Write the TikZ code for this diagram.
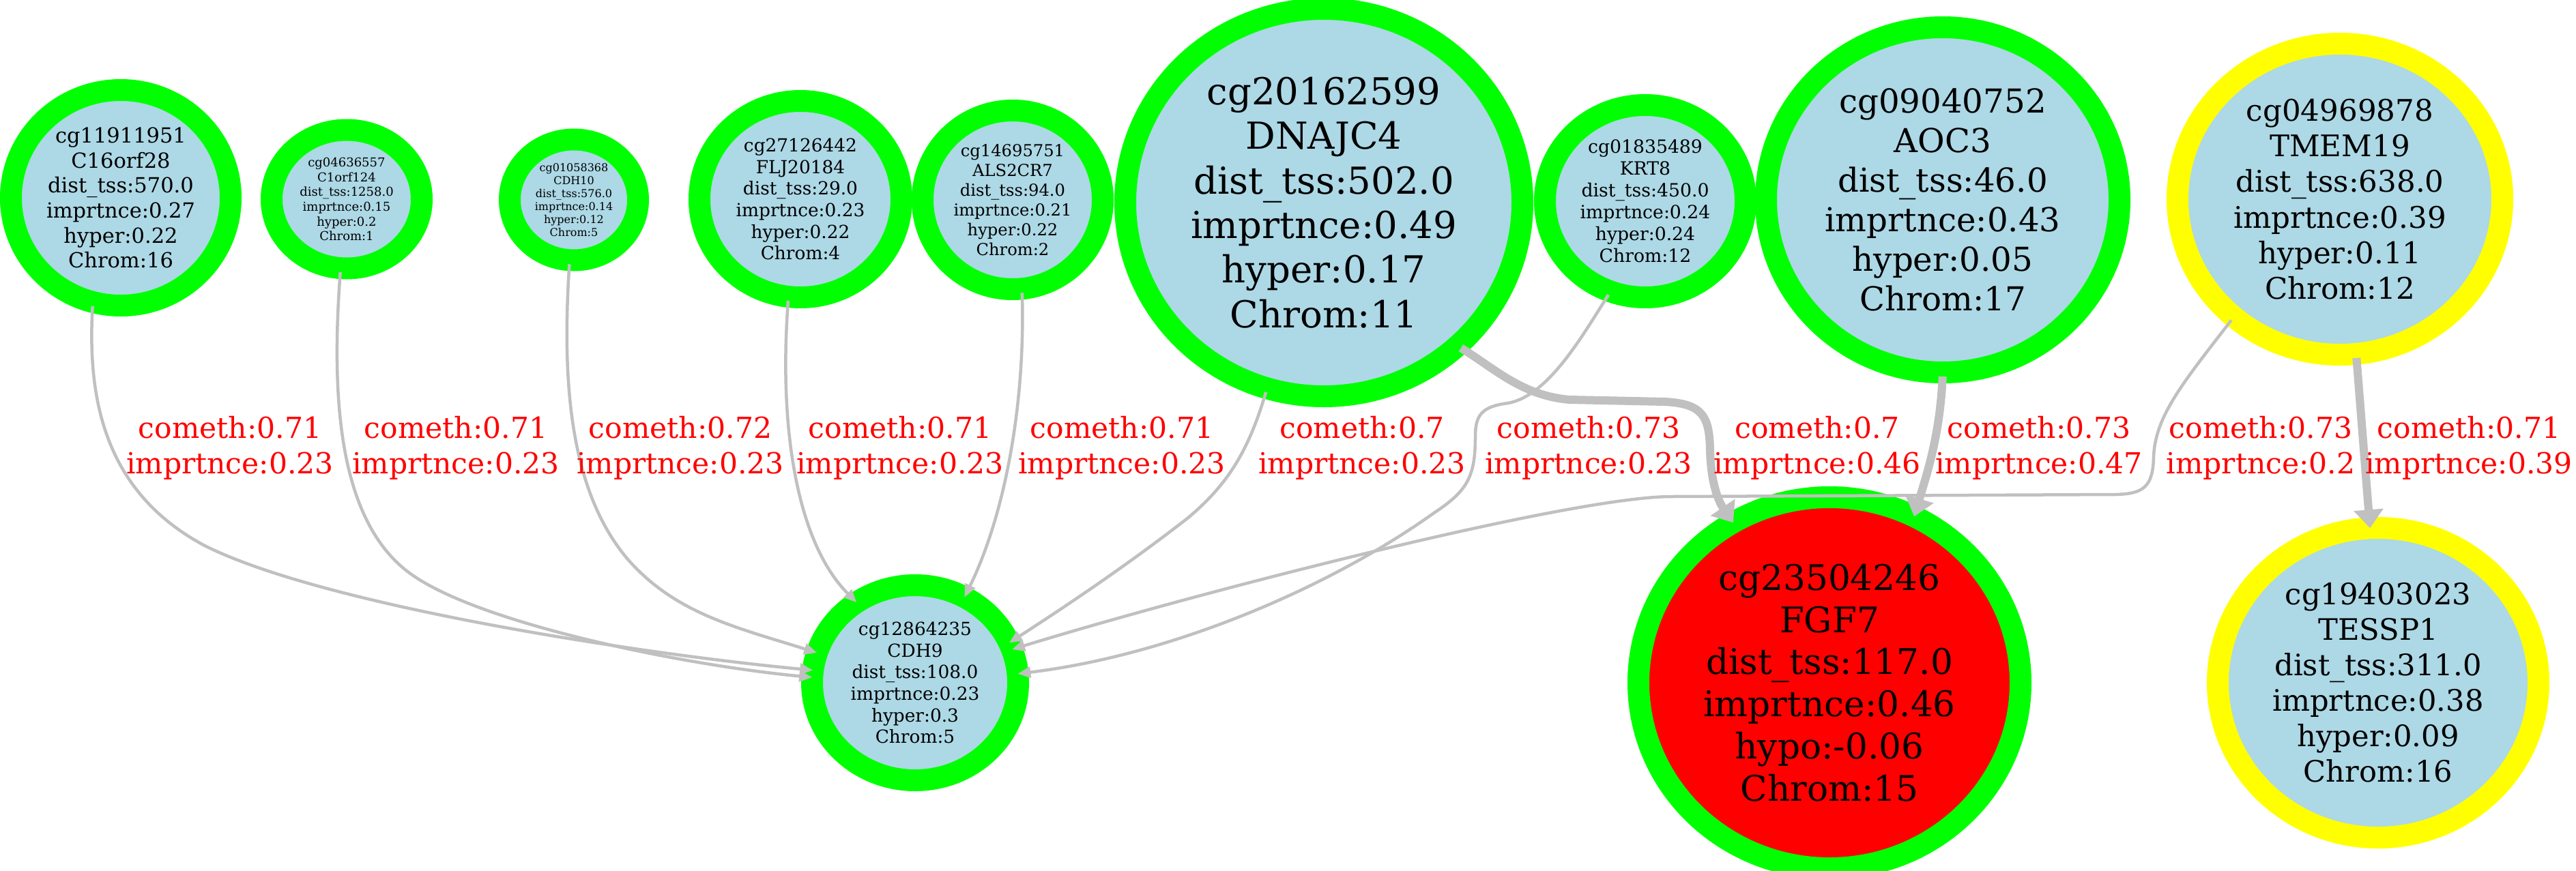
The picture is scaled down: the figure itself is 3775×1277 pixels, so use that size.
\documentclass[tikz,border=0pt]{standalone}
\usepackage{fontspec}
\setmainfont{DejaVu Serif}
\usetikzlibrary{shapes.geometric,arrows.meta}
\definecolor{ringgreen}{RGB}{0,255,0}
\definecolor{ringyellow}{RGB}{255,255,0}
\definecolor{nodeblue}{RGB}{173,216,230}
\definecolor{nodered}{RGB}{255,0,0}
\definecolor{edgegray}{RGB}{192,192,192}
\definecolor{labred}{RGB}{255,0,0}
\begin{document}
\begin{tikzpicture}[x=1pt,y=-1pt,
  gring/.style={ellipse, draw=ringgreen, fill=nodeblue, line width=32pt, inner sep=0pt, outer sep=0pt},
  yring/.style={gring, draw=ringyellow},
  rring/.style={gring, fill=nodered},
  txt/.style={align=center, inner sep=0pt, text=black},
  lab/.style={align=center, inner sep=0pt, text=labred, font={\fontsize{42.5}{51.7}\selectfont}},
  conn/.style={draw=edgegray, line width=4.5pt, shorten <=6pt, -{Triangle[length=19pt,width=16pt]}},
  thickconn/.style={draw=edgegray, line width=12pt, shorten <=6pt, -{Triangle[length=27pt,width=42pt]}},
]
\fill[white] (0,0) rectangle (3775,1277);
\useasboundingbox (0,0) rectangle (3775,1277);

% nodes (rings)
\node[gring, minimum width=322pt, minimum height=316pt] (n1) at (177,290) {};
\node[gring, minimum width=220pt, minimum height=203pt] (n2) at (508,292) {};
\node[gring, minimum width=188pt, minimum height=177pt] (n3) at (841,293) {};
\node[gring, minimum width=296pt, minimum height=288pt] (n4) at (1173,292) {};
\node[gring, minimum width=264pt, minimum height=262pt] (n5) at (1484,293) {};
\node[gring, minimum width=582pt, minimum height=568pt] (n6) at (1940,297) {};
\node[gring, minimum width=294pt, minimum height=282pt] (n7) at (2411,295) {};
\node[gring, minimum width=518pt, minimum height=506pt] (n8) at (2847,293) {};
\node[yring, minimum width=476pt, minimum height=456pt] (n9) at (3429,292) {};
\node[rring, minimum width=560pt, minimum height=544pt] (n10) at (2681,1001) {};
\node[yring, minimum width=470pt, minimum height=454pt] (n11) at (3485,1001) {};
\node[gring, minimum width=302pt, minimum height=286pt] (n12) at (1341,1001) {};

% node texts
\node[txt, font={\fontsize{30.5}{36.6}\selectfont}] (t1) at (n1) {cg11911951\\C16orf28\\dist\_tss:570.0\\imprtnce:0.27\\hyper:0.22\\Chrom:16};
\node[txt, font={\fontsize{18}{21.7}\selectfont}] (t2) at (n2) {cg04636557\\C1orf124\\dist\_tss:1258.0\\imprtnce:0.15\\hyper:0.2\\Chrom:1};
\node[txt, font={\fontsize{16}{19.1}\selectfont}] (t3) at (n3) {cg01058368\\CDH10\\dist\_tss:576.0\\imprtnce:0.14\\hyper:0.12\\Chrom:5};
\node[txt, font={\fontsize{26.4}{31.7}\selectfont}] (t4) at (n4) {cg27126442\\FLJ20184\\dist\_tss:29.0\\imprtnce:0.23\\hyper:0.22\\Chrom:4};
\node[txt, font={\fontsize{24.2}{29}\selectfont}] (t5) at (n5) {cg14695751\\ALS2CR7\\dist\_tss:94.0\\imprtnce:0.21\\hyper:0.22\\Chrom:2};
\node[txt, font={\fontsize{54.5}{65.4}\selectfont}] (t6) at (n6) {cg20162599\\DNAJC4\\dist\_tss:502.0\\imprtnce:0.49\\hyper:0.17\\Chrom:11};
\node[txt, font={\fontsize{26.7}{32}\selectfont}] (t7) at (n7) {cg01835489\\KRT8\\dist\_tss:450.0\\imprtnce:0.24\\hyper:0.24\\Chrom:12};
\node[txt, font={\fontsize{48.3}{58}\selectfont}] (t8) at (n8) {cg09040752\\AOC3\\dist\_tss:46.0\\imprtnce:0.43\\hyper:0.05\\Chrom:17};
\node[txt, font={\fontsize{43.6}{52.3}\selectfont}] (t9) at (n9) {cg04969878\\TMEM19\\dist\_tss:638.0\\imprtnce:0.39\\hyper:0.11\\Chrom:12};
\node[txt, font={\fontsize{51.7}{61.7}\selectfont}] (t10) at (n10) {cg23504246\\FGF7\\dist\_tss:117.0\\imprtnce:0.46\\hypo:-0.06\\Chrom:15};
\node[txt, font={\fontsize{43.3}{52}\selectfont}] (t11) at (n11) {cg19403023\\TESSP1\\dist\_tss:311.0\\imprtnce:0.38\\hyper:0.09\\Chrom:16};
\node[txt, font={\fontsize{26.4}{31.7}\selectfont}] (t12) at (n12) {cg12864235\\CDH9\\dist\_tss:108.0\\imprtnce:0.23\\hyper:0.3\\Chrom:5};

% edges
\draw[conn] (n1.-105) .. controls (128,580) and (150,720) .. (300,800) .. controls (480,890) and (950,960) .. (n12.173);
\draw[conn] (n2.-95.5) .. controls (486,570) and (492,760) .. (600,840) .. controls (700,914) and (1000,975) .. (n12.177);
\draw[conn] (n3.-94.6) .. controls (823,560) and (835,720) .. (920,820) .. controls (990,900) and (1080,920) .. (n12.163);
\draw[conn] (n4.-97.7) .. controls (1140,640) and (1172,800) .. (n12.126.5);
\draw[conn] (n5.-84) .. controls (1503,600) and (1470,760) .. (n12.60);
\draw[conn] (n6.-107) .. controls (1830,660) and (1800,710) .. (1740,760) .. controls (1650,830) and (1560,890) .. (n12.23);
\draw[conn] (n7.-111) .. controls (2320,490) and (2270,580) .. (2210,591) .. controls (2170,596) and (2162,610) .. (2162,640) .. controls (2162,700) and (2150,720) .. (2100,753) .. controls (1950,860) and (1720,960) .. (n12.5);
\draw[thickconn] (n6.-47) .. controls (2190,540) and (2230,580) .. (2300,586) -- (2440,589) .. controls (2495,592) and (2505,610) .. (2506,660) .. controls (2507,700) and (2515,730) .. (n10.121.4);
\draw[thickconn] (n8.-90.5) .. controls (2843,640) and (2822,700) .. (n10.63.6);
\draw[conn] (n9.-132.6) .. controls (3200,560) and (3158,610) .. (3156,670) .. controls (3155,715) and (3140,724) .. (3100,725) -- (2450,728) .. controls (2300,728) and (1750,870) .. (n12.19);
\draw[thickconn] (n9.-84) -- (n11.93);

% edge labels
\node[lab] (l1) at (337,657) {cometh:0.71\\imprtnce:0.23};
\node[lab] (l2) at (668,657) {cometh:0.71\\imprtnce:0.23};
\node[lab] (l3) at (997,657) {cometh:0.72\\imprtnce:0.23};
\node[lab] (l4) at (1319,657) {cometh:0.71\\imprtnce:0.23};
\node[lab] (l5) at (1644,657) {cometh:0.71\\imprtnce:0.23};
\node[lab] (l6) at (1996,657) {cometh:0.7\\imprtnce:0.23};
\node[lab] (l7) at (2328,657) {cometh:0.73\\imprtnce:0.23};
\node[lab] (l8) at (2663,657) {cometh:0.7\\imprtnce:0.46};
\node[lab] (l9) at (2988,657) {cometh:0.73\\imprtnce:0.47};
\node[lab] (l10) at (3313,657) {cometh:0.73\\imprtnce:0.2};
\node[lab] (l11) at (3618,657) {cometh:0.71\\imprtnce:0.39};
\end{tikzpicture}
\end{document}
